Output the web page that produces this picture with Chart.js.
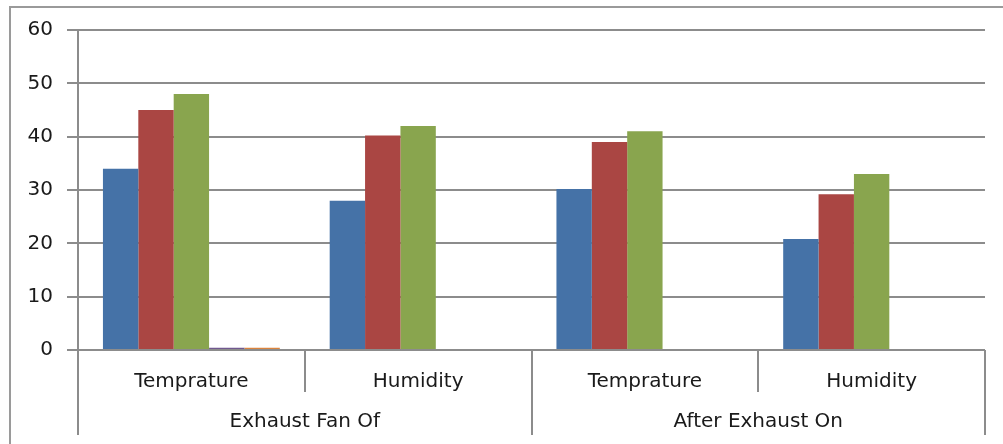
<!DOCTYPE html>
<html>
<head>
<meta charset="utf-8">
<script src="https://cdn.jsdelivr.net/npm/chart.js@4"></script>
<style>
    html, body { margin: 0; padding: 0; background: #fff; }
    #wrap { position: relative; width: 1003px; height: 444px; }
    #frame {
        position: absolute; left: 9px; top: 6px; right: 0; bottom: 0;
        border-left: 2px solid #9a9a9a; border-top: 2px solid #9a9a9a;
        pointer-events: none;
    }
    canvas { position: absolute; left: 0; top: 0; }
</style>
</head>
<body>
<div id="wrap">
    <canvas id="chart" width="1003" height="444"></canvas>
    <div id="frame"></div>
</div>
<script>
// Chart data
const categories = ['Temprature', 'Humidity', 'Temprature', 'Humidity'];
const groups = ['Exhaust Fan Of', 'After Exhaust On'];
const series1 = [34, 28, 30.2, 20.8];
const series2 = [45, 40.2, 39, 29.2];
const series3 = [48, 42, 41, 33];
const series4 = [0.4, 0, 0, 0];
const series5 = [0.4, 0, 0, 0];
const yTicks = [0, 10, 20, 30, 40, 50, 60];

const gridColor = '#8c8c8c';
const font = { family: 'DejaVu Sans', size: 20 };

// Draws the separators of the two-level category axis
const separators = {
    id: 'separators',
    afterDraw: function(chart) {
        const ctx = chart.ctx;
        const x = chart.scales.x;
        const x2 = chart.scales.x2;
        const step = (x.right - x.left) / categories.length;
        const perGroup = categories.length / groups.length;
        ctx.save();
        ctx.strokeStyle = gridColor;
        ctx.lineWidth = 2;
        for (let i = 0; i <= categories.length; i++) {
            const px = Math.round(x.left + step * i);
            const bottom = (i % perGroup === 0) ? x2.bottom : x.bottom;
            ctx.beginPath();
            ctx.moveTo(px, x.top);
            ctx.lineTo(px, bottom);
            ctx.stroke();
        }
        ctx.restore();
    }
};

new Chart(document.getElementById('chart'), {
    type: 'bar',
    data: {
        labels: categories,
        datasets: [
            { data: series1, backgroundColor: '#4572A7' },
            { data: series2, backgroundColor: '#AA4643' },
            { data: series3, backgroundColor: '#89A54E' },
            { data: series4, backgroundColor: '#71588F' },
            { data: series5, backgroundColor: '#DB843D' }
        ]
    },
    options: {
        responsive: false,
        animation: false,
        layout: { padding: { top: 30, right: 18, bottom: 9, left: 0 } },
        datasets: { bar: { categoryPercentage: 0.78, barPercentage: 1 } },
        plugins: { legend: { display: false }, tooltip: { enabled: false } },
        scales: {
            y: {
                min: 0,
                max: 60,
                afterBuildTicks: function(scale) {
                    scale.ticks = yTicks.map(function(v) { return { value: v }; });
                },
                afterFit: function(scale) { scale.width = 78; },
                grid: { color: gridColor, lineWidth: 2, tickLength: 11 },
                border: { color: gridColor, width: 2 },
                ticks: { font: font, color: '#1a1a1a', padding: 14 }
            },
            x: {
                afterFit: function(scale) { scale.height = 42; },
                grid: { display: false },
                border: { display: false },
                ticks: { font: font, color: '#1a1a1a', padding: 12, maxRotation: 0 }
            },
            x2: {
                type: 'category',
                position: 'bottom',
                labels: groups,
                afterFit: function(scale) { scale.height = 43; },
                grid: { display: false },
                border: { display: false },
                ticks: { font: font, color: '#1a1a1a', padding: 10, maxRotation: 0 }
            }
        }
    },
    plugins: [separators]
});
</script>
</body>
</html>
